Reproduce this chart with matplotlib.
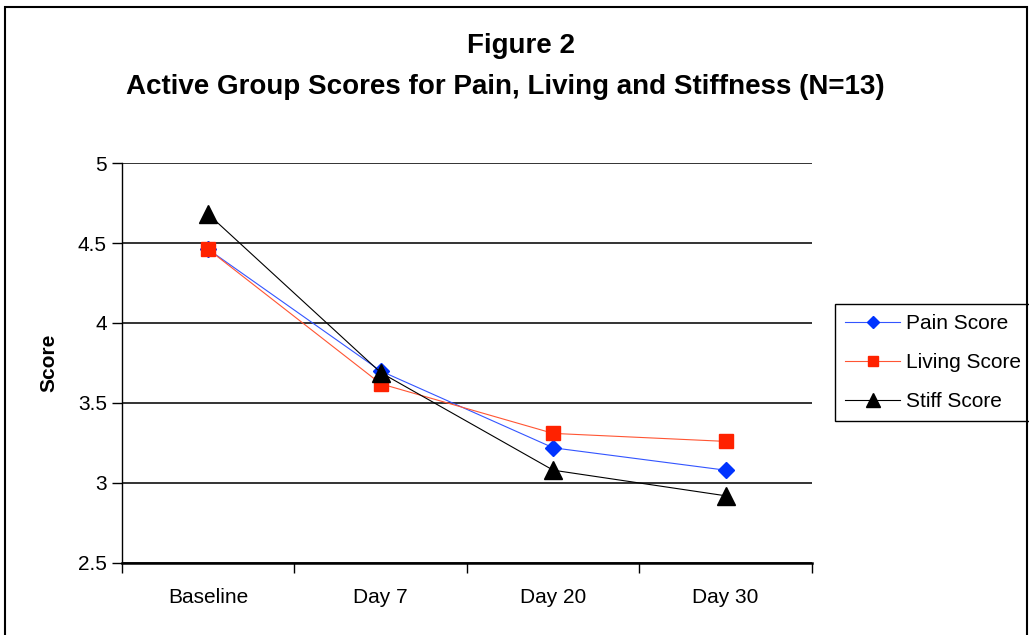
import matplotlib
matplotlib.use("Agg")
import matplotlib.pyplot as plt
from matplotlib.patches import Rectangle

plt.rcParams['font.family'] = ['Liberation Sans', 'DejaVu Sans']

visits = ["Baseline", "Day 7", "Day 20", "Day 30"]
pain_score = [4.46, 3.70, 3.22, 3.08]
living_score = [4.46, 3.62, 3.31, 3.26]
stiff_score = [4.68, 3.69, 3.08, 2.92]
y_ticks = [2.5, 3, 3.5, 4, 4.5, 5]

fig = plt.figure(figsize=(10.29, 6.35), dpi=100)
ax = fig.add_axes([0.1186, 0.1134, 0.6704, 0.6299])

x = list(range(len(visits)))
ax.plot(x, pain_score, color='#3355FF', lw=0.8, marker='D', ms=8,
        mfc='#0033FF', mec='#0033FF', label='Pain Score', zorder=3)
ax.plot(x, living_score, color='#FF5533', lw=0.8, marker='s', ms=10,
        mfc='#FF2200', mec='#FF2200', label='Living Score', zorder=3)
ax.plot(x, stiff_score, color='black', lw=0.8, marker='^', ms=13,
        mfc='black', mec='black', label='Stiff Score', zorder=4)

ax.set_xlim(-0.5, len(visits) - 0.5)
ax.set_ylim(2.5, 5)
ax.set_yticks(y_ticks)
ax.set_yticklabels(['2.5', '3', '3.5', '4', '4.5', '5'])
ax.set_xticks(x)
ax.set_xticklabels(visits)
ax.set_xticks([i - 0.5 for i in range(len(visits) + 1)], minor=True)
ax.tick_params(axis='x', which='major', length=0, pad=18, labelsize=15)
ax.tick_params(axis='x', which='minor', length=7, width=1, direction='out')
ax.tick_params(axis='y', length=7, width=1, direction='out', labelsize=15, pad=4)

ax.grid(axis='y', color='#333333', lw=1.4)
ax.set_axisbelow(True)
for side in ['top', 'right']:
    ax.spines[side].set_visible(False)
ax.spines['left'].set_linewidth(1)
ax.spines['bottom'].set_linewidth(1.8)

ax.set_ylabel('Score', fontsize=15, fontweight='bold', labelpad=14)

fig.text(0.506, 0.928, 'Figure 2', ha='center', va='center',
         fontsize=20, fontweight='bold')
fig.text(0.491, 0.863, 'Active Group Scores for Pain, Living and Stiffness (N=13)',
         ha='center', va='center', fontsize=20, fontweight='bold')

leg = ax.legend(loc='center left', bbox_to_anchor=(0.8115, 0.429),
                bbox_transform=fig.transFigure, borderaxespad=0,
                fontsize=15, frameon=True, fancybox=False, framealpha=1,
                edgecolor='black', handlelength=2.6, borderpad=0.5,
                labelspacing=0.95, handletextpad=0.3, markerscale=0.75)
leg.get_frame().set_linewidth(1)

# outer chart frame
fig.patches.append(Rectangle((0.005, -0.05), 0.993, 1.039,
                             transform=fig.transFigure, fill=False,
                             edgecolor='black', lw=1.5))

fig.savefig('out.png', dpi=100)
